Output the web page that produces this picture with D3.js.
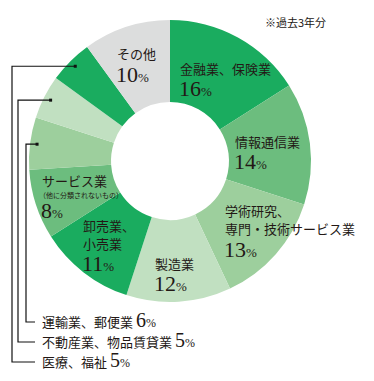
<!DOCTYPE html>
<html lang="ja">
<head>
<meta charset="utf-8">
<title>業種別</title>
<script src="https://cdn.jsdelivr.net/npm/d3@7"></script>
<style>
  body { margin: 0; background: #fff; }
  svg text { fill: #231815; }
  .jp { font-family: "Noto Sans CJK JP", sans-serif; }
  .num { font-family: "Liberation Serif", serif; }
</style>
</head>
<body>
<script>
// data
var names = ["金融業、保険業", "情報通信業", "学術研究、専門・技術サービス業", "製造業",
             "卸売業、小売業", "サービス業（他に分類されないもの）", "運輸業、郵便業",
             "不動産業、物品賃貸業", "医療、福祉", "その他"];
var values = [16, 14, 13, 12, 11, 8, 6, 5, 5, 10];
var shades = ["dark", "mid", "light", "pale", "dark", "mid", "light", "pale", "dark", "gray"];
var note = "※過去3年分";

// layout
var w = 374, h = 381;
var cx = 170, cy = 161, rOut = 141, rIn = 59;
var palette = { dark: "#1aac5f", mid: "#6cbd7e", light: "#9dcf9d", pale: "#c1e0c1", gray: "#dcdddd" };

// inside labels: lines of name, x, first baseline, percent baseline
var inside = [
  { i: 0, lines: ["金融業、保険業"], x: 180, y: 74, py: 96 },
  { i: 1, lines: ["情報通信業"], x: 235, y: 147, py: 169 },
  { i: 2, lines: ["学術研究、", "専門・技術サービス業"], x: 225, y: 216, py: 257 },
  { i: 3, lines: ["製造業"], x: 155, y: 269, py: 291 },
  { i: 4, lines: ["卸売業、", "小売業"], x: 83, y: 231, py: 271 },
  { i: 5, lines: ["サービス業"], small: "（他に分類されないもの）", x: 42, y: 186, py: 218 },
  { i: 9, lines: ["その他"], x: 117, y: 59, py: 82 }
];
// outside labels with leader lines
var outside = [
  { i: 6, label: "運輸業、郵便業", lx: 26, y: 327 },
  { i: 7, label: "不動産業、物品賃貸業", lx: 18, y: 347 },
  { i: 8, label: "医療、福祉", lx: 12, y: 367 }
];

var svg = d3.select("body").append("svg")
  .attr("width", w).attr("height", h);

var pie = d3.pie().sort(null).value(function(d) { return d; });
var arcs = pie(values);
var arc = d3.arc().innerRadius(rIn).outerRadius(rOut);

var g = svg.append("g").attr("transform", "translate(" + cx + "," + cy + ")");
g.selectAll("path")
  .data(arcs)
  .enter()
  .append("path")
  .attr("d", arc)
  .attr("fill", function(d, i) { return palette[shades[i]]; });

// inside labels
inside.forEach(function(L) {
  L.lines.forEach(function(s, k) {
    svg.append("text").attr("class", "jp")
      .attr("x", L.x).attr("y", L.y + k * 18)
      .attr("font-size", "13px")
      .text(s);
  });
  if (L.small) {
    svg.append("text").attr("class", "jp")
      .attr("x", L.x - 3).attr("y", L.y + 12)
      .attr("font-size", "7px")
      .text(L.small);
  }
  var t = svg.append("text").attr("class", "num")
    .attr("x", L.x - 1).attr("y", L.py);
  t.append("tspan").attr("font-size", "22px").text(values[L.i]);
  t.append("tspan").attr("font-size", "13px").text("%");
});

// leader lines
var lineArc = d3.arc().innerRadius(134).outerRadius(134);
outside.forEach(function(L) {
  var c = lineArc.centroid(arcs[L.i]);
  var px = cx + c[0], py = cy + c[1];
  var ly = L.y - 5;
  svg.append("path")
    .attr("d", "M" + px + "," + py + "H" + L.lx + "V" + ly + "H" + 35)
    .attr("fill", "none")
    .attr("stroke", "#111")
    .attr("stroke-width", 1.2);
  svg.append("rect")
    .attr("x", px - 1.5).attr("y", py - 1.5)
    .attr("width", 3).attr("height", 3)
    .attr("fill", "#111");
  var t = svg.append("text").attr("x", 42).attr("y", L.y);
  t.append("tspan").attr("class", "jp").attr("font-size", "13px").text(L.label + " ");
  t.append("tspan").attr("class", "num").attr("font-size", "20px").text(values[L.i]);
  t.append("tspan").attr("class", "num").attr("font-size", "12px").text("%");
});

svg.append("text").attr("class", "jp")
  .attr("x", 265).attr("y", 27)
  .attr("font-size", "11px")
  .text(note);
</script>
</body>
</html>
